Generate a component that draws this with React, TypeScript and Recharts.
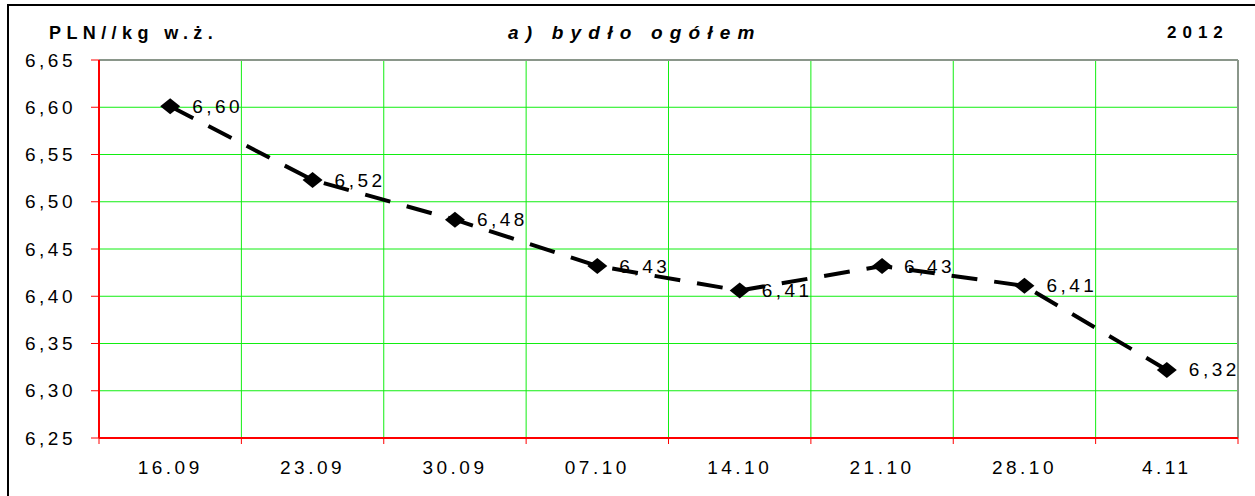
import React from 'react';
import { LineChart, Line, XAxis, YAxis, CartesianGrid, LabelList } from 'recharts';

const categories = ['16.09', '23.09', '30.09', '07.10', '14.10', '21.10', '28.10', '4.11'];
const prices = [6.601, 6.523, 6.481, 6.432, 6.406, 6.432, 6.411, 6.322];
const yTicks = [6.25, 6.3, 6.35, 6.4, 6.45, 6.5, 6.55, 6.6, 6.65];
const boundaryTicks = [0, 1, 2, 3, 4, 5, 6, 7, 8];
const centerTicks = [0.5, 1.5, 2.5, 3.5, 4.5, 5.5, 6.5, 7.5];

const data = categories.map((c, i) => ({ x: i + 0.5, date: c, price: prices[i] }));

const FONT = '"Liberation Sans", Arial, sans-serif';
const GREEN = '#11ee11';
const RED = '#ff0000';
const FRAME = '#8a968a';

const fmt = (v: number) => v.toFixed(2).replace('.', ',');

const Diamond = (props: any) => {
  const { cx, cy } = props;
  if (cx == null || cy == null) return null;
  return <polygon points={`${cx - 10},${cy} ${cx},${cy - 8} ${cx + 10},${cy} ${cx},${cy + 8}`} fill="#000" />;
};

const PointLabel = (props: any) => {
  const { x, y, value } = props;
  return (
    <text x={x + 22} y={y} dominantBaseline="central" fontSize={19} letterSpacing={3.5} fontFamily={FONT} fill="#000">
      {fmt(value)}
    </text>
  );
};

const EmptyTick = () => <g />;

// position of a category boundary inside the plot area (domain 0..8)
const xPos = (p: any, t: number) => p.offset.left + (t / categories.length) * p.offset.width;

// vertical grid lines at category boundaries
const boundaryLines = (p: any) => boundaryTicks.map((t) => xPos(p, t));
// gray frame on the right and top of the plot
const rightEdge = (p: any) => [xPos(p, categories.length)];
const topEdge = (p: any) => [p.offset.top];

export default function App() {
  return (
    <div style={{ position: 'absolute', left: 0, top: 0, width: 1255, height: 496, overflow: 'hidden', background: '#fff', fontFamily: FONT }}>
      <div
        style={{
          position: 'absolute',
          left: 7,
          top: 4,
          width: 1300,
          height: 600,
          borderLeft: '2px solid #000',
          borderTop: '2px solid #000',
        }}
      />
      <div style={{ position: 'absolute', left: 49, top: 23, fontSize: 18, fontWeight: 'bold', letterSpacing: 5.4 }}>PLN//kg w.ż.</div>
      <div style={{ position: 'absolute', left: 508, top: 22, fontSize: 19, fontWeight: 'bold', fontStyle: 'italic', letterSpacing: 7.2 }}>a) bydło ogółem</div>
      <div style={{ position: 'absolute', left: 1167, top: 23, fontSize: 17, fontWeight: 'bold', letterSpacing: 6 }}>2012</div>
      <div style={{ position: 'absolute', left: 0, top: 0 }}>
        <LineChart width={1255} height={496} data={data} margin={{ top: 60, right: 17, bottom: 0, left: 0 }}>
          <CartesianGrid xAxisId="grid" stroke={GREEN} strokeWidth={1} verticalCoordinatesGenerator={boundaryLines} />
          <CartesianGrid
            xAxisId="grid"
            stroke={FRAME}
            strokeWidth={2}
            verticalCoordinatesGenerator={rightEdge}
            horizontalCoordinatesGenerator={topEdge}
          />
          <XAxis
            xAxisId="grid"
            type="number"
            dataKey="x"
            domain={[0, 8]}
            ticks={boundaryTicks}
            tick={<EmptyTick />}
            tickSize={6}
            height={6}
            axisLine={{ stroke: RED, strokeWidth: 2 }}
            tickLine={{ stroke: RED }}
            interval={0}
            allowDataOverflow
          />
          <XAxis
            xAxisId="lbl"
            type="number"
            dataKey="x"
            domain={[0, 8]}
            ticks={centerTicks}
            tickFormatter={(v: number) => categories[Math.floor(v)]}
            tickSize={0}
            tickMargin={17}
            height={52}
            axisLine={false}
            tickLine={false}
            tick={{ fill: '#000', fontSize: 19, fontFamily: FONT, letterSpacing: 3.5 }}
            interval={0}
          />
          <YAxis
            type="number"
            domain={[6.25, 6.65]}
            ticks={yTicks}
            width={99}
            tickSize={8}
            tickMargin={15}
            tickFormatter={fmt}
            axisLine={{ stroke: RED, strokeWidth: 2 }}
            tickLine={{ stroke: RED }}
            tick={{ fill: '#000', fontSize: 19, fontFamily: FONT, letterSpacing: 3.5 }}
            interval={0}
            allowDataOverflow
          />
          <Line
            xAxisId="grid"
            type="linear"
            dataKey="price"
            stroke="#000"
            strokeWidth={4}
            strokeDasharray="26 17"
            dot={<Diamond />}
            activeDot={false}
            isAnimationActive={false}
          >
            <LabelList dataKey="price" content={<PointLabel />} />
          </Line>
        </LineChart>
      </div>
    </div>
  );
}
